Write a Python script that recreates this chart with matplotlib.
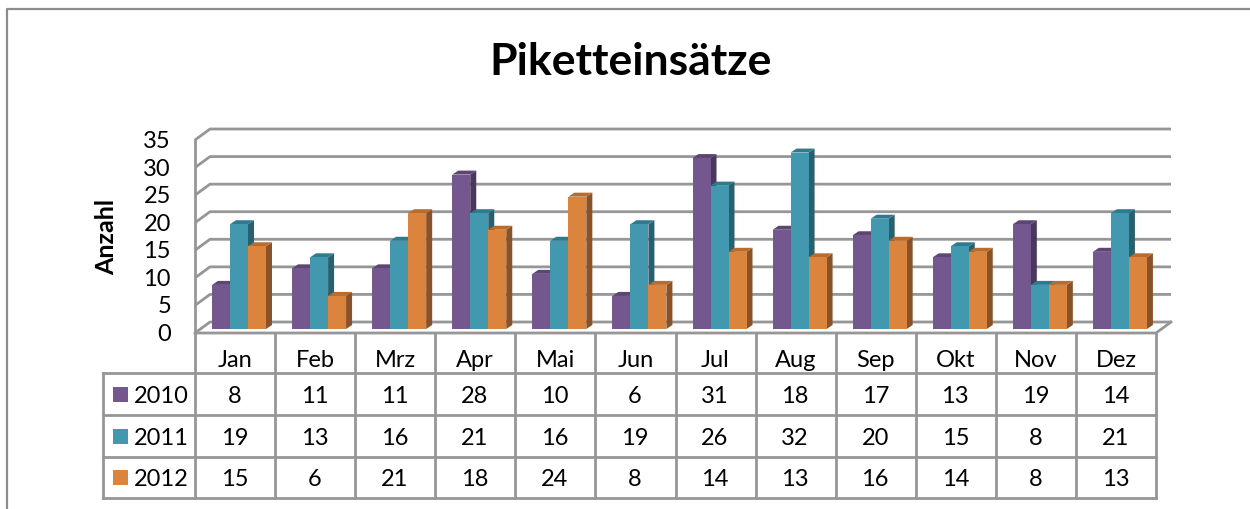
import matplotlib
matplotlib.use('Agg')
import matplotlib.pyplot as plt
from matplotlib.patches import Polygon, Rectangle

plt.rcParams['font.family'] = ['Lato', 'DejaVu Sans']

months = ['Jan', 'Feb', 'Mrz', 'Apr', 'Mai', 'Jun', 'Jul', 'Aug', 'Sep', 'Okt', 'Nov', 'Dez']
years = ['2010', '2011', '2012']
v2010 = [8, 11, 11, 28, 10, 6, 31, 18, 17, 13, 19, 14]
v2011 = [19, 13, 16, 21, 16, 19, 26, 32, 20, 15, 8, 21]
v2012 = [15, 6, 21, 18, 24, 8, 14, 13, 16, 14, 8, 13]
series = [v2010, v2011, v2012]
yticks = [0, 5, 10, 15, 20, 25, 30, 35]

front = ['#755790', '#4198AF', '#DB843D']
top = ['#5E4673', '#2F7A8E', '#B86C2E']
side = ['#4A3760', '#27606F', '#8A5226']
GRID = '#969696'

W, H = 1250, 510
L, R, Y0, Y35 = 195, 1156, 334, 141   # front plane of plot in px
fig = plt.figure(figsize=(W / 100, H / 100), dpi=100)

# page axes in pixels, for frame and table
page = fig.add_axes([0, 0, 1, 1])
page.set_xlim(0, W)
page.set_ylim(H, 0)
page.axis('off')
page.plot([7, 7, W], [H, 10, 10], color='#8c8c8c', lw=1.6)

ax = fig.add_axes([L / W, 1 - Y0 / H, (R - L) / W, (Y0 - Y35) / H])
ax.set_xlim(0, 12)
ax.set_ylim(0, 35)
ax.axis('off')

px = 12 / (R - L)
py = 35 / (Y0 - Y35)
DX, DY = 15 * px, 11 * py        # depth of the box
bdx, bdy = 6 * px, 4 * py        # depth of a bar
off_y = 4 * py                   # bars stand a little behind the front edge
BW = 18 * px
start = 17 * px

# walls and grid
for t in yticks:
    ax.plot([0, DX, 12 + DX], [t, t + DY, t + DY], color=GRID, lw=2, clip_on=False,
            solid_capstyle='butt', zorder=1)
ax.plot([0, 0], [0, 35], color=GRID, lw=2, clip_on=False, zorder=1)
ax.plot([0, 12, 12 + DX], [0, 0, DY], color=GRID, lw=2, clip_on=False, zorder=1)

for i in range(12):
    for s, vals in enumerate(series):
        x0 = i + start + s * BW
        x1 = x0 + BW
        y0 = off_y
        y1 = off_y + vals[i]
        ax.add_patch(Polygon([(x1, y0), (x1 + bdx, y0 + bdy), (x1 + bdx, y1 + bdy), (x1, y1)],
                             fc=side[s], ec='none', clip_on=False, zorder=2 + s))
        ax.add_patch(Polygon([(x0, y1), (x0 + bdx, y1 + bdy), (x1 + bdx, y1 + bdy), (x1, y1)],
                             fc=top[s], ec='none', clip_on=False, zorder=2 + s))
        ax.add_patch(Rectangle((x0, y0), BW, vals[i], fc=front[s], ec='none',
                               clip_on=False, zorder=2.5 + s))

FS = 17
TY = 1.5    # text sits a bit high with va center
for t in yticks:
    page.text(171, Y0 - 1 - (t / 35) * (Y0 - Y35) + TY, str(t), ha='right', va='center',
              fontsize=FS, color='black')
page.text(107, 237, 'Anzahl', rotation=90, ha='center', va='center',
          fontsize=18, fontweight='bold', color='black')
page.text(631, 62, 'Piketteinsätze', ha='center', va='center', fontsize=32,
          fontweight='bold', color='black')

# data table below the axis
rows = [374, 416, 458, 499]
TL = 103
col = (R - L) / 12
for k in range(13):
    x = L + k * col
    page.plot([x, x], [334, 499], color=GRID, lw=2, solid_capstyle='projecting')
page.plot([TL, TL], [374, 499], color=GRID, lw=2, solid_capstyle='projecting')
for y in rows:
    page.plot([TL, R], [y, y], color=GRID, lw=2, solid_capstyle='projecting')
for i, m in enumerate(months):
    page.text(L + (i + 0.5) * col, 359 + TY, m, ha='center', va='center', fontsize=FS)
for s, vals in enumerate(series):
    yc = (rows[s] + rows[s + 1]) / 2
    page.add_patch(Rectangle((113, yc - 7.5), 15, 15, fc=front[s], ec='none'))
    page.text(134, yc + TY, years[s], ha='left', va='center', fontsize=FS)
    for i, v in enumerate(vals):
        page.text(L + (i + 0.5) * col - 0.5, yc + TY, str(v), ha='center', va='center', fontsize=FS)

fig.savefig('out.png', dpi=100)
